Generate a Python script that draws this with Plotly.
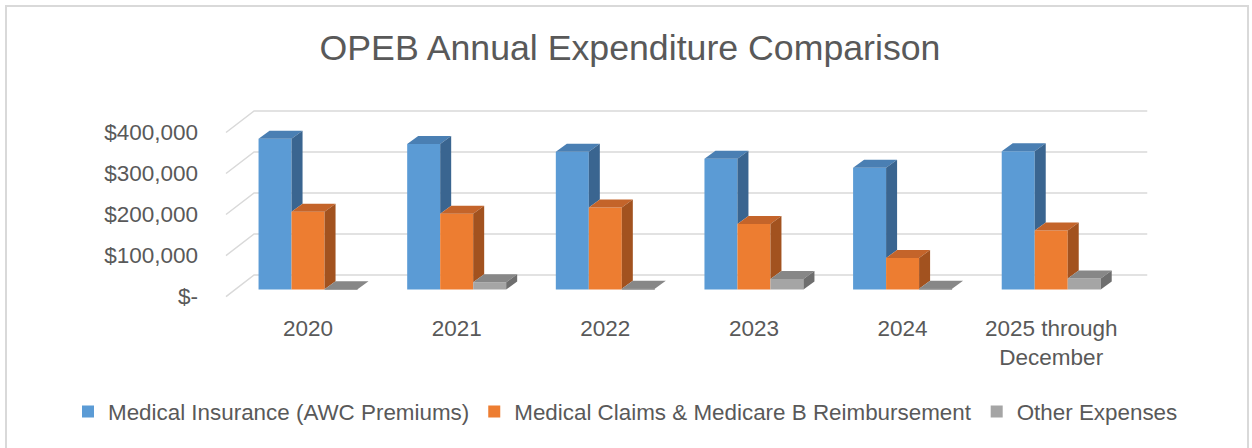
import plotly.graph_objects as go

categories = ["2020", "2021", "2022", "2023", "2024", "2025 through<br>December"]
series_names = ["Medical Insurance (AWC Premiums)",
                "Medical Claims & Medicare B Reimbursement",
                "Other Expenses"]
medical_insurance = [368000, 355000, 336000, 319000, 297000, 337000]
medical_claims = [190000, 185000, 200000, 160000, 77000, 144000]
other_expenses = [1000, 18000, 2000, 26000, 2000, 27000]
series_values = [medical_insurance, medical_claims, other_expenses]

tick_vals = [0, 100000, 200000, 300000, 400000]
tick_text = ["$-", "$100,000", "$200,000", "$300,000", "$400,000"]

front_colors = ["#5B9BD5", "#ED7D31", "#A5A5A5"]
top_colors = ["#4A7FB3", "#C4642A", "#878787"]
side_colors = ["#3A6590", "#A2521F", "#6E6E6E"]

W = 0.222
offsets = [-0.222, 0.0, 0.222]
DX = 0.074          # depth in x (category units)
DY = 19500          # depth in y (value units)

TXT = "#595959"
FONT = "Liberation Sans, Arial, sans-serif"

fig = go.Figure()
n = len(categories)
xs = list(range(n))

# front faces
for s in range(3):
    fig.add_trace(go.Bar(
        x=[i + offsets[s] for i in xs], y=series_values[s], width=W,
        name=series_names[s], marker=dict(color=front_colors[s], line=dict(width=0)),
        hoverinfo="y+name"))

# top and side faces (3D effect)
for s in range(3):
    tx, ty, sx, sy = [], [], [], []
    for i in xs:
        v = series_values[s][i]
        xl = i + offsets[s] - W / 2
        xr = xl + W
        tx += [xl, xr, xr + DX, xl + DX, xl, None]
        ty += [v, v, v + DY, v + DY, v, None]
        lo = min(series_values[s + 1][i], v) if s < 2 else 0
        sx += [xr, xr + DX, xr + DX, xr, xr, None]
        sy += [lo, lo + DY, v + DY, v, lo, None]
    fig.add_trace(go.Scatter(x=tx, y=ty, mode="lines", fill="toself",
                             fillcolor=top_colors[s], line=dict(width=0, color=top_colors[s]),
                             showlegend=False, hoverinfo="skip"))
    fig.add_trace(go.Scatter(x=sx, y=sy, mode="lines", fill="toself",
                             fillcolor=side_colors[s], line=dict(width=0, color=side_colors[s]),
                             showlegend=False, hoverinfo="skip"))

# back-wall gridlines with left diagonal
x_front_left, x_back_left, x_back_right = -0.552, -0.363, 5.646
y_front_off, y_back_off = -17000, 35600
for t in tick_vals:
    fig.add_shape(type="path",
                  path=f"M {x_front_left},{t + y_front_off} L {x_back_left},{t + y_back_off} L {x_back_right},{t + y_back_off}",
                  xref="x", yref="y", line=dict(color="#D9D9D9", width=1.5), layer="below")

L, R, T, B = 204, 67, 105, 142
PW, PH = 1252 - L - R, 448 - T - B
# chart border
fig.add_shape(type="rect", xref="paper", yref="paper",
              x0=(6 - L) / PW, x1=(1248 - L) / PW,
              y0=(448 - B - 470) / PH, y1=(448 - B - 6) / PH,
              line=dict(color="#D9D9D9", width=2), fillcolor="rgba(0,0,0,0)", layer="below")

fig.update_layout(
    width=1252, height=448,
    margin=dict(l=L, r=R, t=T, b=B, autoexpand=False),
    paper_bgcolor="white", plot_bgcolor="white",
    barmode="overlay",
    font=dict(family=FONT, color=TXT, size=22),
    title=dict(text="OPEB Annual Expenditure Comparison", x=630 / 1252, xanchor="center",
               y=1 - 48 / 448, yanchor="middle", yref="container",
               font=dict(size=35.7, color=TXT, family=FONT)),
    xaxis=dict(range=[-0.7, 5.9], tickvals=xs, ticktext=categories, showgrid=False,
               zeroline=False, showline=False, ticks="", tickfont=dict(size=22.5, color=TXT),
               ticklabelstandoff=6),
    yaxis=dict(range=[-40000, 450000], tickvals=tick_vals, ticktext=tick_text, showgrid=False,
               zeroline=False, showline=False, ticks="", tickfont=dict(size=22.5, color=TXT),
               ticklabelshift=7, ticklabelstandoff=5),
    legend=dict(orientation="h", x=(68 - L) / PW, xanchor="left",
                y=(448 - B - 412) / PH, yanchor="middle",
                font=dict(size=22.4, color=TXT), itemwidth=30, traceorder="normal"),
    showlegend=True,
)

fig.write_html("out.html", config={"displayModeBar": False},
               post_script="document.body.style.margin='0';document.body.style.padding='0';")
